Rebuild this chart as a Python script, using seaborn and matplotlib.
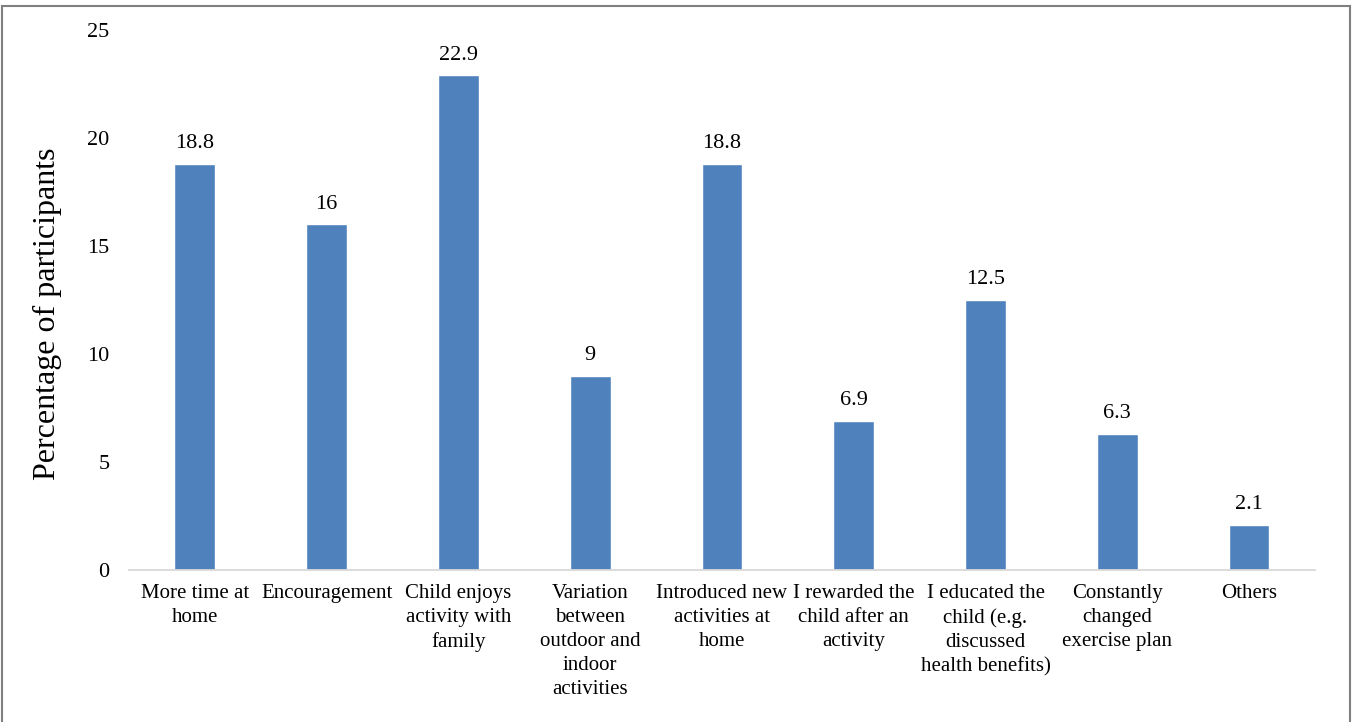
import matplotlib
matplotlib.use("Agg")
import matplotlib.pyplot as plt
import seaborn as sns
import pandas as pd
from matplotlib.patches import Rectangle

# Dados do grafico
categorias = [
    "More time at\nhome",
    "Encouragement",
    "Child enjoys\nactivity with\nfamily",
    "Variation\nbetween\noutdoor and\nindoor\nactivities",
    "Introduced new\nactivities at\nhome",
    "I rewarded the\nchild after an\nactivity",
    "I educated the\nchild (e.g.\ndiscussed\nhealth benefits)",
    "Constantly\nchanged\nexercise plan",
    "Others",
]
percentuais = [18.8, 16, 22.9, 9, 18.8, 6.9, 12.5, 6.3, 2.1]
rotulos = ["18.8", "16", "22.9", "9", "18.8", "6.9", "12.5", "6.3", "2.1"]
y_ticks = [0, 5, 10, 15, 20, 25]

df = pd.DataFrame({"categoria": categorias, "pct": percentuais})

sns.set_theme(style="white")
plt.rcParams["font.family"] = ["Liberation Serif", "DejaVu Serif"]
plt.rcParams["text.color"] = "black"
plt.rcParams["xtick.color"] = "black"
plt.rcParams["ytick.color"] = "black"
plt.rcParams["axes.labelcolor"] = "black"

fig = plt.figure(figsize=(13.52, 7.22), dpi=100)
ax = fig.add_axes([0.0954, 0.2105, 0.8772, 0.7479])

sns.barplot(data=df, x="categoria", y="pct", color="#4F81BD", saturation=1,
            width=0.31, ax=ax)

# Rotulos de valor acima das barras
for i, (v, r) in enumerate(zip(percentuais, rotulos)):
    ax.text(i, v + 0.72, r, ha="center", va="baseline", fontsize=16, color="black")

ax.set_ylim(0, 25)
ax.set_xlim(-0.5, len(categorias) - 0.5)
ax.set_yticks(y_ticks)
ax.set_yticklabels([str(t) for t in y_ticks], fontsize=16)
ax.tick_params(axis="y", length=0, pad=14)
ax.tick_params(axis="x", length=0, pad=10)
ax.set_xticks(range(len(categorias)))
ax.set_xticklabels(categorias, fontsize=15, va="top", linespacing=1.35)
ax.set_xlabel("")
ax.set_ylabel("Percentage of participants", fontsize=23, labelpad=18)
ax.yaxis.label.set_y(0.475)

for s in ["top", "right", "left"]:
    ax.spines[s].set_visible(False)
ax.spines["bottom"].set_color("#D9D9D9")
ax.spines["bottom"].set_linewidth(1.3)

# Borda externa
fig.patches.append(Rectangle((2 / 1352, -0.02), 1348 / 1352, 1.02 - 6 / 722,
                             transform=fig.transFigure, fill=False,
                             edgecolor="#7F7F7F", linewidth=1.5))

fig.savefig("out.png", dpi=100)
